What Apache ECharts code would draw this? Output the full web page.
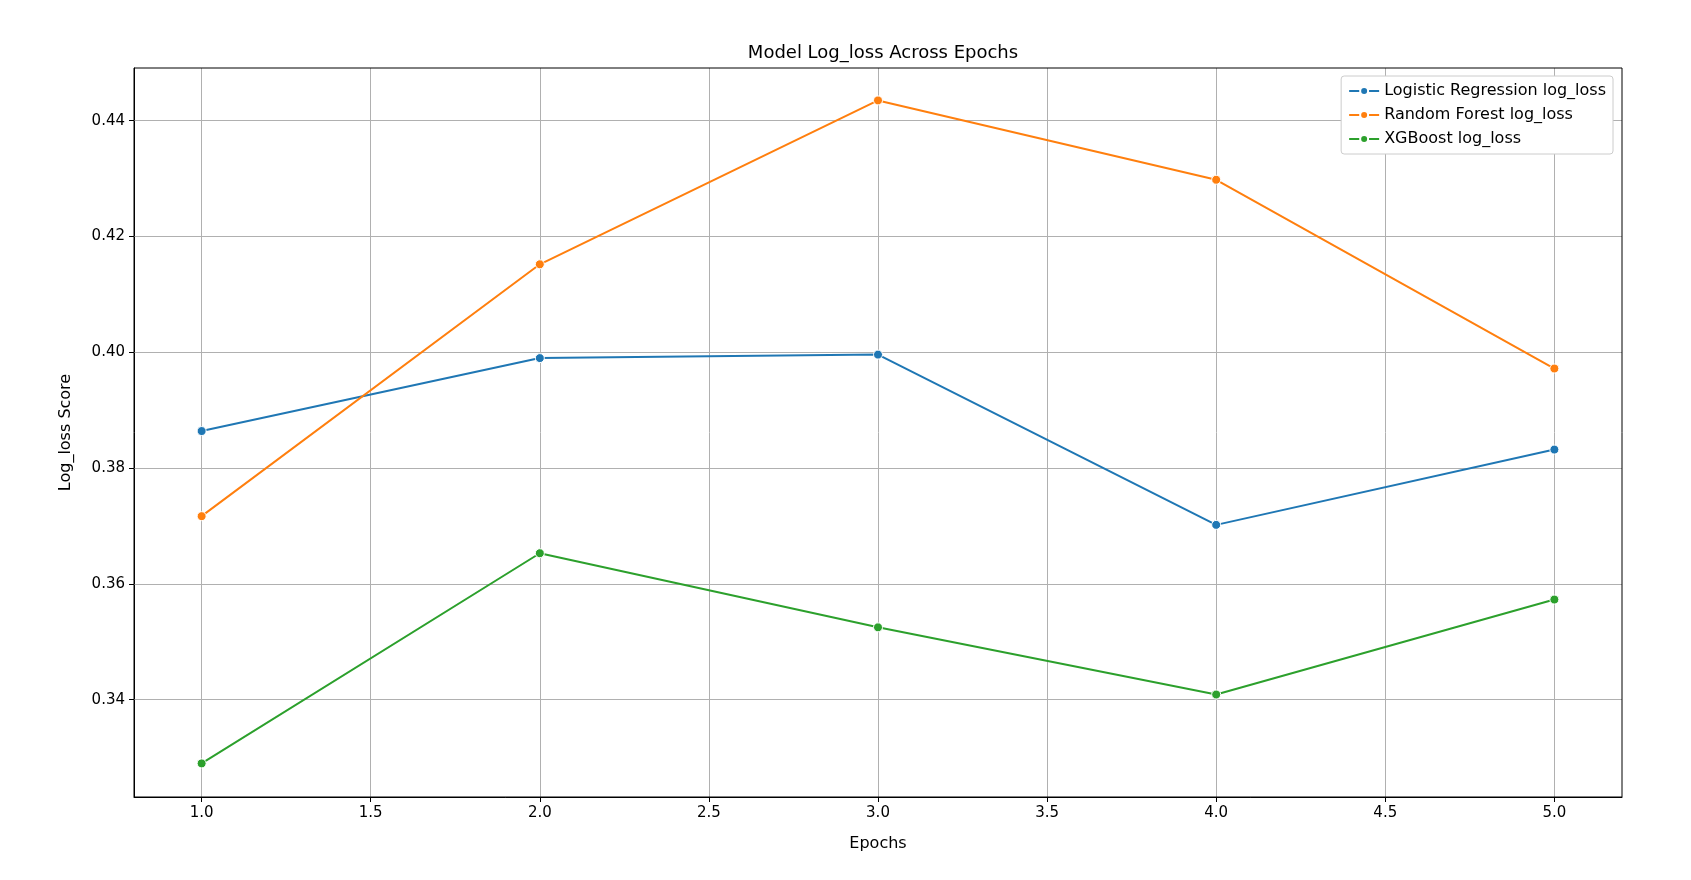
<!DOCTYPE html>
<html>
<head>
<meta charset="utf-8">
<script src="https://cdn.jsdelivr.net/npm/echarts@6/dist/echarts.min.js"></script>
<style>body{margin:0;background:#fff}#chart{width:1691px;height:880px}</style>
</head>
<body>
<div id="chart"></div>
<script>
const epochs = [1, 2, 3, 4, 5];
const lrLoss = [0.3864, 0.3990, 0.3996, 0.3702, 0.3832];
const rfLoss = [0.3717, 0.4152, 0.4435, 0.4298, 0.3972];
const xgbLoss = [0.3290, 0.3653, 0.3525, 0.3409, 0.3573];
const xTicks = [1.0, 1.5, 2.0, 2.5, 3.0, 3.5, 4.0, 4.5, 5.0];
const yTicks = [0.34, 0.36, 0.38, 0.40, 0.42, 0.44];

const font = 'DejaVu Sans';
const chart = echarts.init(document.getElementById('chart'));

function pairs(vals) { return epochs.map((e, i) => [e, vals[i]]); }

const gridLines = xTicks.map(v => ({ xAxis: v })).concat(yTicks.map(v => ({ yAxis: v })));

function series(name, vals, color, withGrid) {
  const s = {
    name: name, type: 'line', data: pairs(vals),
    symbol: 'circle', symbolSize: 9, z: 3,
    lineStyle: { color: color, width: 2 },
    itemStyle: { color: color, borderColor: '#fff', borderWidth: 1 }
  };
  if (withGrid) {
    s.markLine = {
      silent: true, symbol: 'none', label: { show: false }, z: 1,
      lineStyle: { color: '#b0b0b0', width: 1, type: 'solid' },
      data: gridLines, animation: false
    };
  }
  return s;
}

chart.setOption({
  animation: false,
  title: {
    text: 'Model Log_loss Across Epochs', left: 878, top: 39, textAlign: 'center',
    textStyle: { fontFamily: font, fontSize: 18, fontWeight: 'normal', color: '#000' }
  },
  legend: {
    orient: 'vertical', right: 78, top: 76,
    backgroundColor: '#fff', borderColor: '#ccc', borderWidth: 1, borderRadius: 3,
    padding: [7, 7, 7, 7], itemGap: 8, itemWidth: 30, itemHeight: 10,
    textStyle: { fontFamily: font, fontSize: 16, color: '#000' }
  },
  grid: { left: 134, right: 69, top: 68, bottom: 83 },
  xAxis: {
    type: 'value', min: 0.8, max: 5.2, name: 'Epochs', nameLocation: 'middle', nameGap: 39,
    nameTextStyle: { fontFamily: font, fontSize: 16, color: '#000' },
    axisLine: { show: true, onZero: false, lineStyle: { color: '#000' } },
    axisTick: { show: true, customValues: xTicks, length: 5, lineStyle: { color: '#000' } },
    axisLabel: { customValues: xTicks, formatter: v => v.toFixed(1), fontFamily: font, fontSize: 15, color: '#000', margin: 9 },
    splitLine: { show: false }
  },
  yAxis: {
    type: 'value', min: 0.3232, max: 0.4491, name: 'Log_loss Score', nameLocation: 'middle', nameGap: 60,
    nameTextStyle: { fontFamily: font, fontSize: 16, color: '#000' },
    axisLine: { show: true, onZero: false, lineStyle: { color: '#000' } },
    axisTick: { show: true, customValues: yTicks, length: 5, lineStyle: { color: '#000' } },
    axisLabel: { customValues: yTicks, formatter: v => v.toFixed(2), fontFamily: font, fontSize: 15, color: '#000', margin: 9 },
    splitLine: { show: false }
  },
  graphic: [{
    type: 'rect', shape: { x: 134, y: 68, width: 1488, height: 729 },
    style: { fill: 'none', stroke: '#000', lineWidth: 1 }, z: 10, silent: true
  }],
  series: [
    series('Logistic Regression log_loss', lrLoss, '#1f77b4', true),
    series('Random Forest log_loss', rfLoss, '#ff7f0e', false),
    series('XGBoost log_loss', xgbLoss, '#2ca02c', false)
  ]
});
</script>
</body>
</html>
